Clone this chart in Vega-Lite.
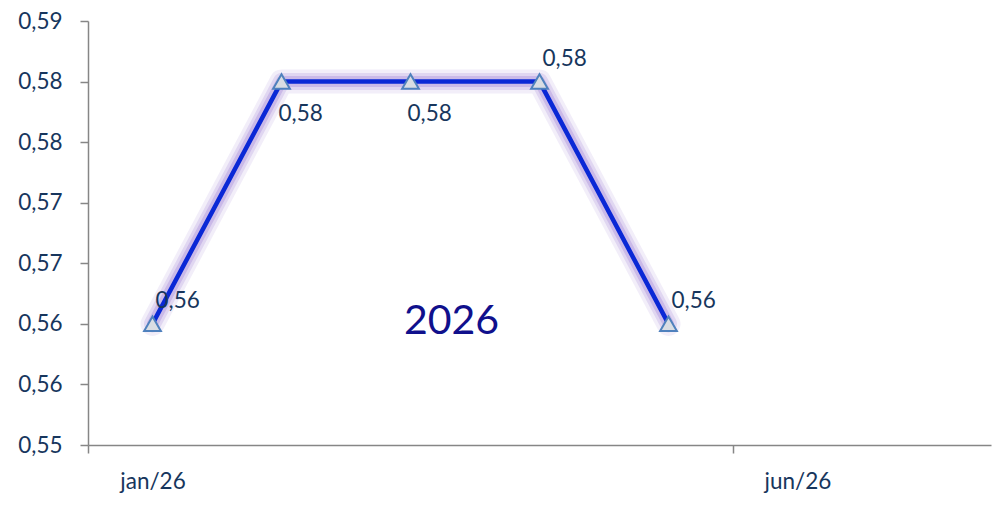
{
  "$schema": "https://vega.github.io/schema/vega-lite/v6.json",
  "width": 903,
  "height": 424,
  "autosize": "none",
  "padding": {"left": 88, "top": 21, "right": 8, "bottom": 60},
  "background": "white",
  "config": {
    "view": {"stroke": null},
    "font": "Lato",
    "locale": {"number": {"decimal": ",", "thousands": ".", "grouping": [3], "currency": ["R$", ""]}}
  },
  "data": {
    "values": [
      {"month": "jan/26", "value": 0.56},
      {"month": "fev/26", "value": 0.58},
      {"month": "mar/26", "value": 0.58},
      {"month": "abr/26", "value": 0.58},
      {"month": "mai/26", "value": 0.56}
    ]
  },
  "encoding": {
    "x": {
      "field": "month",
      "type": "ordinal",
      "bandPosition": 0.5,
      "scale": {
        "type": "band",
        "domain": ["jan/26", "fev/26", "mar/26", "abr/26", "mai/26", "jun/26", "jul/26"],
        "paddingInner": 0,
        "paddingOuter": 0
      },
      "axis": {
        "title": null,
        "values": ["jan/26", "jun/26"],
        "tickOffset": -64.5,
        "labelOffset": 64.5,
        "labelAngle": 0,
        "grid": false,
        "domainColor": "#868686",
        "domainWidth": 1.5,
        "tickColor": "#868686",
        "tickWidth": 1.5,
        "tickSize": 8,
        "labelColor": "#17365d",
        "labelFont": "Lato",
        "labelFontSize": 22.5,
        "labelPadding": 17
      }
    },
    "y": {
      "field": "value",
      "type": "quantitative",
      "scale": {"domain": [0.55, 0.585], "nice": false, "zero": false},
      "axis": {
        "title": null,
        "values": [0.55, 0.555, 0.56, 0.565, 0.57, 0.575, 0.58, 0.585],
        "labelExpr": "replace(format(datum.value + 0.0001, '.2f'), '.', ',')",
        "grid": false,
        "domainColor": "#868686",
        "domainWidth": 1.5,
        "tickColor": "#868686",
        "tickWidth": 1.5,
        "tickSize": 8,
        "labelColor": "#17365d",
        "labelFont": "Lato",
        "labelFontSize": 22.5,
        "labelPadding": 18
      }
    }
  },
  "layer": [
    {
      "mark": {"type": "line", "color": "#a084d8", "strokeWidth": 24, "opacity": 0.14, "strokeJoin": "round", "strokeCap": "round"}
    },
    {
      "mark": {"type": "line", "color": "#a084d8", "strokeWidth": 17, "opacity": 0.22, "strokeJoin": "round", "strokeCap": "round"}
    },
    {
      "mark": {"type": "line", "color": "#a084d8", "strokeWidth": 11, "opacity": 0.35, "strokeJoin": "round", "strokeCap": "round"}
    },
    {
      "mark": {"type": "line", "color": "#0a28d6", "strokeWidth": 4.5, "strokeJoin": "miter"}
    },
    {
      "mark": {"type": "point", "shape": "triangle-up", "size": 280, "filled": true, "fill": "#d9dde3", "stroke": "#4f81bd", "strokeWidth": 2, "opacity": 1}
    },
    {
      "transform": [{"filter": {"field": "month", "oneOf": ["jan/26", "abr/26", "mai/26"]}}],
      "mark": {"type": "text", "align": "left", "baseline": "middle", "dx": 3, "dy": -23, "fontSize": 22.5, "font": "Lato", "color": "#17365d"},
      "encoding": {"text": {"field": "value", "type": "quantitative", "format": ".2f"}}
    },
    {
      "transform": [{"filter": {"field": "month", "oneOf": ["fev/26", "mar/26"]}}],
      "mark": {"type": "text", "align": "left", "baseline": "middle", "dx": -3, "dy": 32, "fontSize": 22.5, "font": "Lato", "color": "#17365d"},
      "encoding": {"text": {"field": "value", "type": "quantitative", "format": ".2f"}}
    },
    {
      "transform": [{"filter": {"field": "month", "equal": "mar/26"}}],
      "mark": {"type": "text", "align": "center", "baseline": "middle", "dx": 41, "dy": -2, "fontSize": 41, "font": "Lato", "color": "#10108c"},
      "encoding": {
        "y": {"datum": 0.56, "type": "quantitative"},
        "text": {"value": "2026"}
      }
    }
  ]
}
